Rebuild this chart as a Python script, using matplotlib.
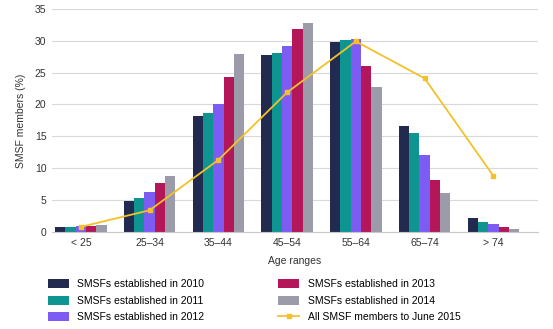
import numpy as np
import matplotlib
matplotlib.use('Agg')
import matplotlib.pyplot as plt

plt.rcParams['font.family'] = ['Liberation Sans', 'DejaVu Sans']

age_ranges = ['< 25', '25–34', '35–44', '45–54', '55–64', '65–74', '> 74']
est_2010 = [0.7, 4.8, 18.2, 27.8, 29.8, 16.6, 2.2]
est_2011 = [0.8, 5.3, 18.7, 28.0, 30.1, 15.5, 1.5]
est_2012 = [0.9, 6.2, 20.1, 29.2, 30.2, 12.1, 1.2]
est_2013 = [1.0, 7.7, 24.3, 31.9, 26.1, 8.2, 0.7]
est_2014 = [1.1, 8.8, 27.9, 32.8, 22.7, 6.1, 0.4]
all_members = [0.8, 3.4, 11.3, 21.9, 29.9, 24.1, 8.8]

series = [
    ('SMSFs established in 2010', est_2010, '#222a4f'),
    ('SMSFs established in 2011', est_2011, '#0e9592'),
    ('SMSFs established in 2012', est_2012, '#7d5cf4'),
    ('SMSFs established in 2013', est_2013, '#b3175a'),
    ('SMSFs established in 2014', est_2014, '#9b9ba9'),
]

fig = plt.figure(figsize=(5.53, 3.29), dpi=100)
ax = fig.add_axes([0.094, 0.295, 0.879, 0.678])

x = np.arange(len(age_ranges))
w = 0.15
handles = []
for i, (label, vals, color) in enumerate(series):
    b = ax.bar(x + (i - 2) * w, vals, width=w, color=color, label=label, zorder=2)
    handles.append(b)

line, = ax.plot(x, all_members, color='#f4c12a', marker='s', markersize=3.5,
                linewidth=1.3, label='All SMSF members to June 2015', zorder=3)

ax.set_ylim(0, 35)
ax.set_yticks(range(0, 36, 5))
ax.set_xlim(-0.42, 6.65)
ax.set_xticks(x)
ax.set_xticklabels(age_ranges)
ax.grid(axis='y', color='#d9d9d9', linewidth=0.8, zorder=0)
ax.set_axisbelow(True)
for s in ['top', 'right', 'left']:
    ax.spines[s].set_visible(False)
ax.spines['bottom'].set_color('#c8c8c8')
ax.tick_params(length=0, labelsize=7.5, colors='#333333', pad=4)
ax.set_xlabel('Age ranges', fontsize=7.5, color='#333333', labelpad=6)
ax.set_ylabel('SMSF members (%)', fontsize=7.5, color='#333333', labelpad=6)

order = handles + [line]
fig.legend(order, [h.get_label() for h in order], ncol=2, loc='lower left',
           bbox_to_anchor=(0.07, -0.008), frameon=False, fontsize=7.5,
           handlelength=2.0, handleheight=1.0, columnspacing=7.1,
           labelspacing=0.6, handletextpad=0.8)

fig.savefig('out.png', dpi=100)
